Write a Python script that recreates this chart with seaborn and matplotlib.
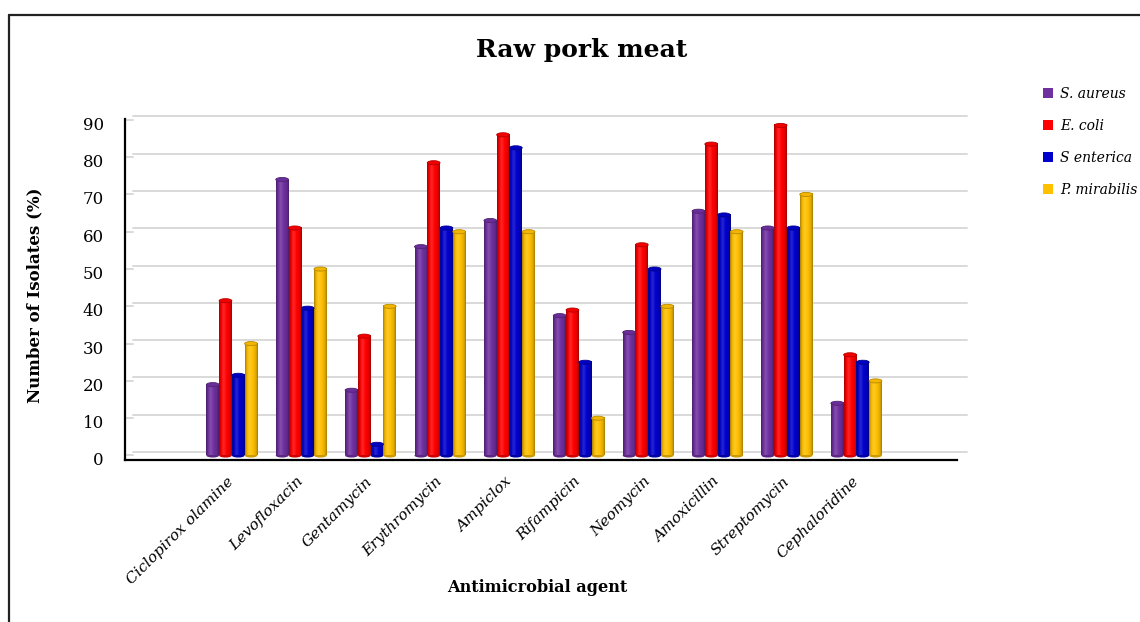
import numpy as np
import pandas as pd
import matplotlib
matplotlib.use("Agg")
import matplotlib.pyplot as plt
import matplotlib.colors as mcolors
from matplotlib.patches import Ellipse, Patch
from matplotlib.lines import Line2D
from matplotlib.transforms import ScaledTranslation, blended_transform_factory
import seaborn as sns

# ---- data -------------------------------------------------------------
agents = ["Ciclopirox olamine", "Levofloxacin", "Gentamycin", "Erythromycin",
          "Ampiclox", "Rifampicin", "Neomycin", "Amoxicillin", "Streptomycin",
          "Cephaloridine"]
organisms = ["S. aureus", "E. coli", "S enterica", "P. mirabilis"]
s_aureus = [19, 74, 17.5, 56, 63, 37.5, 33, 65.5, 61, 14]
e_coli = [41.5, 61, 32, 78.5, 86, 39, 56.5, 83.5, 88.5, 27]
s_enterica = [21.5, 39.5, 3, 61, 82.5, 25, 50, 64.5, 61, 25]
p_mirabilis = [30, 50, 40, 60, 60, 10, 40, 60, 70, 20]
y_ticks = [0, 10, 20, 30, 40, 50, 60, 70, 80, 90]
colors = ["#7030A0", "#FF0000", "#0000CC", "#FFC000"]

df = pd.DataFrame({
    "agent": agents * 4,
    "organism": np.repeat(organisms, len(agents)),
    "value": s_aureus + e_coli + s_enterica + p_mirabilis,
})

sns.set_theme(style="white")
serif = ["DejaVu Serif"]
plt.rcParams["font.family"] = serif
plt.rcParams["text.color"] = "black"

fig = plt.figure(figsize=(11.4, 6.22), dpi=100)
ax = fig.add_axes([125 / 1140, 0.2605, 832 / 1140, 0.548])

sns.barplot(data=df, x="agent", y="value", hue="organism", order=agents,
            hue_order=organisms, palette=colors, width=0.735, gap=0,
            saturation=1, linewidth=0, legend=False, ax=ax, zorder=3)


def shade(c, f):
    r = np.array(mcolors.to_rgb(c))
    if f < 1:
        return tuple(r * f)
    return tuple(r + (1 - r) * (f - 1))


# cylinder shading for each bar
grad = np.linspace(0, 1, 64).reshape(1, -1)
for cont, col in zip(ax.containers, colors):
    cmap = mcolors.LinearSegmentedColormap.from_list(
        "cyl", [(0.0, shade(col, 0.66)), (0.15, shade(col, 0.94)),
                (0.35, shade(col, 1.15)), (0.6, shade(col, 1.0)),
                (0.85, shade(col, 0.88)), (1.0, shade(col, 0.64))])
    for bar in cont:
        x0, w, h = bar.get_x(), bar.get_width(), bar.get_height()
        bar.set_visible(False)
        ax.add_patch(Ellipse((x0 + w / 2, 0), w, 1.1, color=shade(col, 0.8),
                             zorder=3, lw=0))
        ax.imshow(grad, cmap=cmap, extent=[x0, x0 + w, 0, h], aspect="auto",
                  zorder=4, interpolation="bilinear")
        ax.add_patch(Ellipse((x0 + w / 2, h), w, 1.1, facecolor=shade(col, 0.95),
                             edgecolor=shade(col, 0.72), lw=0.6, zorder=5))

ax.set_xlim(-1.54, 10.45)
ax.set_ylim(-1.2, 90.2)

# back-wall gridlines with a short floor diagonal at the left
tr = blended_transform_factory(ax.transAxes, ax.transData)
up = ScaledTranslation(0, 3.5 / 100, fig.dpi_scale_trans)
down = ScaledTranslation(0, -5.5 / 100, fig.dpi_scale_trans)
for v in y_ticks:
    ax.plot([8 / 832, 842 / 832], [v, v], color="#D9D9D9", lw=1.4,
            transform=tr + up, clip_on=False, zorder=1)
    ax.plot([0, 8 / 832], [v, v], color="#D9D9D9", lw=1.4,
            transform=tr, clip_on=False, zorder=1)

for s in ["top", "right"]:
    ax.spines[s].set_visible(False)
for s in ["left", "bottom"]:
    ax.spines[s].set_color("black")
    ax.spines[s].set_linewidth(1.6)

# y tick labels sit slightly in front of the back wall
ax.set_yticks(y_ticks)
ax.set_yticklabels([])
ytr = blended_transform_factory(ax.transAxes, ax.transData) + down
for v in y_ticks:
    ax.text(-21 / 832, v, str(v), transform=ytr, ha="right", va="center",
            fontsize=12, color="black", clip_on=False)
ax.tick_params(axis="y", length=0)
ax.tick_params(axis="x", length=0, pad=14)
ax.set_xticks(range(len(agents)))
ax.set_xticklabels(agents, rotation=45, ha="right", va="center",
                   rotation_mode="anchor", fontsize=11, style="italic",
                   color="black")
ax.set_xlabel("")
ax.set_ylabel("Number of Isolates (%)", fontsize=12, fontweight="bold",
              color="black")
ax.yaxis.set_label_coords(-0.0986, 0.484)

fig.text(537 / 1140, 1 - 588 / 622, "Antimicrobial agent", ha="center",
         va="center", fontsize=11.6, fontweight="bold")
fig.text(582 / 1140, 1 - 50 / 622, "Raw pork meat", ha="center",
         va="center", fontsize=18, fontweight="bold")

handles = [Patch(facecolor=c, edgecolor="none") for c in colors]
fig.legend(handles, organisms, loc="upper left",
           bbox_to_anchor=(1043 / 1140, 1 - 87 / 622), frameon=False,
           prop={"style": "italic", "size": 10, "family": serif},
           handlelength=0.7, handleheight=0.7, handletextpad=0.55,
           labelspacing=1.3, borderaxespad=0, borderpad=0)

# outer frame
fig.add_artist(Line2D([8.5 / 1140, 8.5 / 1140], [-0.05, 1 - 15 / 622],
                      color="#222222", lw=1.6, transform=fig.transFigure))
fig.add_artist(Line2D([8.5 / 1140, 1.05], [1 - 15 / 622, 1 - 15 / 622],
                      color="#222222", lw=1.6, transform=fig.transFigure))

fig.savefig("out.png", dpi=100)
